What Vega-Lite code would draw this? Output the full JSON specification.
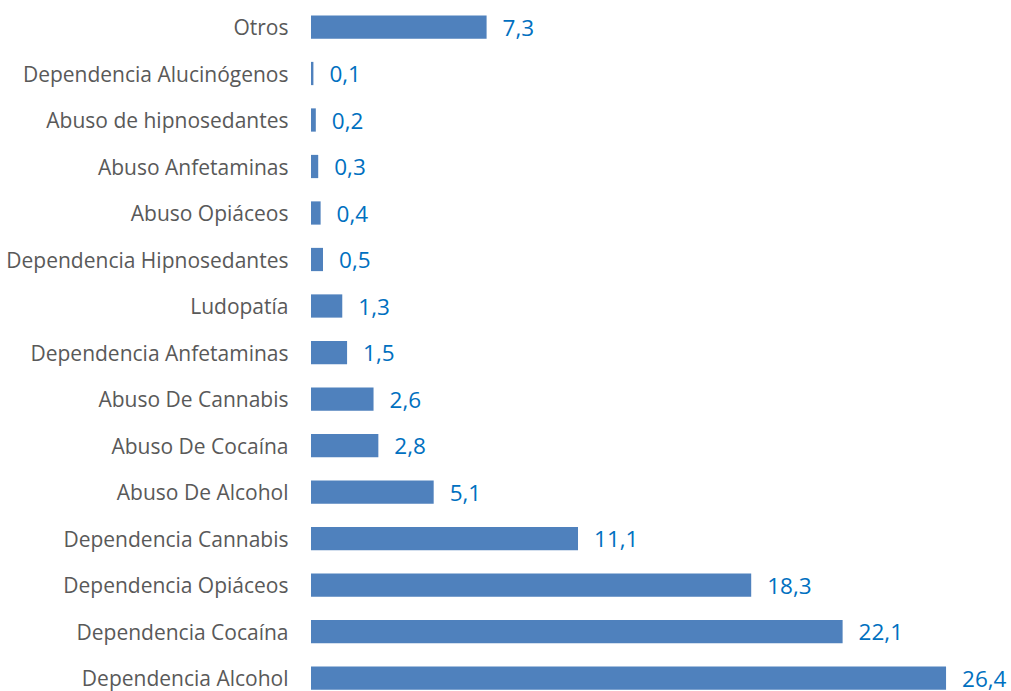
{
  "$schema": "https://vega.github.io/schema/vega-lite/v6.json",
  "autosize": "none",
  "width": 700,
  "height": 697.5,
  "padding": {"left": 311, "top": 3.75, "right": 0, "bottom": 0},
  "background": "#ffffff",
  "config": {
    "view": {"stroke": null},
    "locale": {"number": {"decimal": ",", "thousands": ".", "grouping": [3], "currency": ["", " €"]}}
  },
  "data": {
    "values": [
      {"categoria": "Otros", "valor": 7.3},
      {"categoria": "Dependencia Alucinógenos", "valor": 0.1},
      {"categoria": "Abuso de hipnosedantes", "valor": 0.2},
      {"categoria": "Abuso Anfetaminas", "valor": 0.3},
      {"categoria": "Abuso Opiáceos", "valor": 0.4},
      {"categoria": "Dependencia Hipnosedantes", "valor": 0.5},
      {"categoria": "Ludopatía", "valor": 1.3},
      {"categoria": "Dependencia Anfetaminas", "valor": 1.5},
      {"categoria": "Abuso De Cannabis", "valor": 2.6},
      {"categoria": "Abuso De Cocaína", "valor": 2.8},
      {"categoria": "Abuso De Alcohol", "valor": 5.1},
      {"categoria": "Dependencia Cannabis", "valor": 11.1},
      {"categoria": "Dependencia Opiáceos", "valor": 18.3},
      {"categoria": "Dependencia Cocaína", "valor": 22.1},
      {"categoria": "Dependencia Alcohol", "valor": 26.4}
    ]
  },
  "encoding": {
    "y": {
      "field": "categoria",
      "type": "nominal",
      "sort": null,
      "scale": {"paddingInner": 0.5, "paddingOuter": 0.25},
      "axis": {
        "title": null,
        "domain": false,
        "ticks": false,
        "labelPadding": 23,
        "labelOffset": 2,
        "labelFont": "Open Sans",
        "labelFontSize": 21,
        "labelColor": "#595959",
        "labelLimit": 400
      }
    },
    "x": {
      "field": "valor",
      "type": "quantitative",
      "scale": {"domain": [0, 29.1], "nice": false},
      "axis": null
    }
  },
  "layer": [
    {"mark": {"type": "bar", "color": "#4f81bd"}},
    {
      "mark": {"type": "text", "align": "left", "baseline": "middle", "dx": 16, "dy": 1.5, "font": "Open Sans", "fontSize": 22.5, "color": "#0070c0"},
      "encoding": {"text": {"field": "valor", "type": "quantitative", "format": ".1f"}}
    }
  ]
}
